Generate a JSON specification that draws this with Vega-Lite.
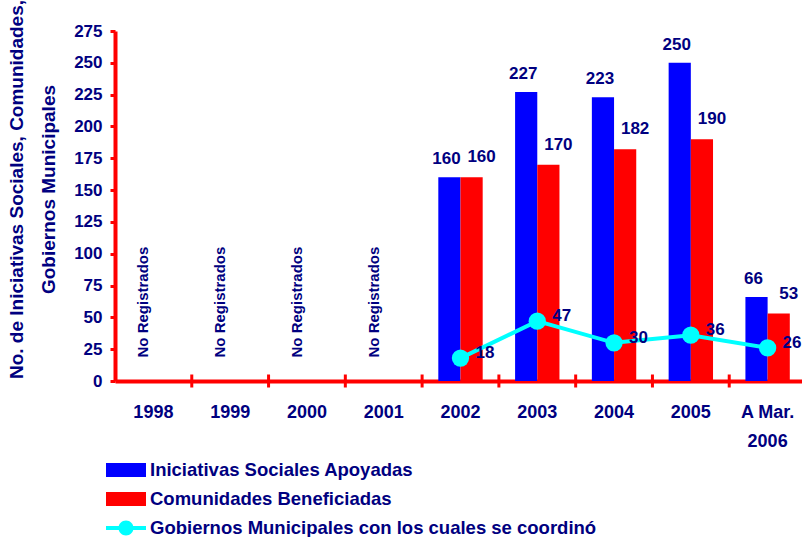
{
  "$schema": "https://vega.github.io/schema/vega-lite/v6.json",
  "width": 691,
  "height": 350,
  "autosize": {"type": "none"},
  "padding": {"left": 115, "top": 31, "right": -4, "bottom": 156},
  "config": {
    "font": "Liberation Sans",
    "view": {"stroke": null},
    "text": {"font": "Liberation Sans"}
  },
  "datasets": {
    "bars": [
      {"cat": "2002", "serie": "Iniciativas Sociales Apoyadas", "v": 160},
      {"cat": "2002", "serie": "Comunidades Beneficiadas", "v": 160},
      {"cat": "2003", "serie": "Iniciativas Sociales Apoyadas", "v": 227},
      {"cat": "2003", "serie": "Comunidades Beneficiadas", "v": 170},
      {"cat": "2004", "serie": "Iniciativas Sociales Apoyadas", "v": 223},
      {"cat": "2004", "serie": "Comunidades Beneficiadas", "v": 182},
      {"cat": "2005", "serie": "Iniciativas Sociales Apoyadas", "v": 250},
      {"cat": "2005", "serie": "Comunidades Beneficiadas", "v": 190},
      {"cat": "A Mar. 2006", "serie": "Iniciativas Sociales Apoyadas", "v": 66},
      {"cat": "A Mar. 2006", "serie": "Comunidades Beneficiadas", "v": 53}
    ],
    "line": [
      {"cat": "2002", "serie": "Gobiernos Municipales con los cuales se coordinó", "v": 18},
      {"cat": "2003", "serie": "Gobiernos Municipales con los cuales se coordinó", "v": 47},
      {"cat": "2004", "serie": "Gobiernos Municipales con los cuales se coordinó", "v": 30},
      {"cat": "2005", "serie": "Gobiernos Municipales con los cuales se coordinó", "v": 36},
      {"cat": "A Mar. 2006", "serie": "Gobiernos Municipales con los cuales se coordinó", "v": 26}
    ],
    "nr": [
      {"cat": "1998", "txt": "No Registrados"},
      {"cat": "1999", "txt": "No Registrados"},
      {"cat": "2000", "txt": "No Registrados"},
      {"cat": "2001", "txt": "No Registrados"}
    ],
    "cats": [
      {"cat": "1999"},
      {"cat": "2000"},
      {"cat": "2001"},
      {"cat": "2002"},
      {"cat": "2003"},
      {"cat": "2004"},
      {"cat": "2005"},
      {"cat": "A Mar. 2006"}
    ]
  },
  "encoding": {
    "x": {
      "field": "cat",
      "type": "nominal",
      "scale": {
        "domain": ["1998", "1999", "2000", "2001", "2002", "2003", "2004", "2005", "A Mar. 2006"],
        "paddingInner": 0,
        "paddingOuter": 0
      },
      "axis": {
        "title": null,
        "labelAngle": 0,
        "labelFontSize": 18,
        "labelFontWeight": "bold",
        "labelColor": "#000080",
        "labelPadding": 22,
        "labelLineHeight": 29,
        "labelExpr": "datum.value == 'A Mar. 2006' ? ['A Mar.', '2006'] : datum.label",
        "domainColor": "#FF0000",
        "domainWidth": 4,
        "ticks": false
      }
    },
    "y": {
      "type": "quantitative",
      "scale": {"domain": [0, 275], "nice": false},
      "axis": {
        "values": [0, 25, 50, 75, 100, 125, 150, 175, 200, 225, 250, 275],
        "labelOverlap": false,
        "grid": false,
        "title": ["No. de Iniciativas Sociales, Comunidades,", "Gobiernos Municipales"],
        "titleFontSize": 19,
        "titleFontWeight": "bold",
        "titleColor": "#000080",
        "titleLineHeight": 32,
        "titleAngle": 270,
        "titleX": -89,
        "titleY": 158,
        "titleAlign": "center",
        "titleBaseline": "bottom",
        "labelFontSize": 17,
        "labelFontWeight": "bold",
        "labelColor": "#000080",
        "labelPadding": 8,
        "domainColor": "#FF0000",
        "domainWidth": 4,
        "tickColor": "#FF0000",
        "tickWidth": 3,
        "tickSize": 5,
        "encode": {"ticks": {"update": {"x": {"value": 5}, "x2": {"value": -5}}}}
      }
    }
  },
  "layer": [
    {
      "data": {"name": "cats"},
      "mark": {"type": "tick", "orient": "vertical", "color": "#FF0000", "size": 13, "thickness": 3, "opacity": 1},
      "encoding": {
        "x": {"field": "cat", "type": "nominal", "bandPosition": 0},
        "y": {"datum": 0}
      }
    },
    {
      "data": {"name": "bars"},
      "mark": {"type": "bar"},
      "encoding": {
        "y": {"field": "v"},
        "xOffset": {"field": "serie", "type": "nominal", "scale": {"domain": ["Iniciativas Sociales Apoyadas", "Comunidades Beneficiadas"], "paddingInner": 0, "paddingOuter": 0.73}},
        "color": {
          "field": "serie",
          "type": "nominal",
          "scale": {
            "domain": ["Iniciativas Sociales Apoyadas", "Comunidades Beneficiadas", "Gobiernos Municipales con los cuales se coordinó"],
            "range": ["#0000FF", "#FF0000", "#00FFFF"]
          },
          "legend": {
            "title": null,
            "orient": "none",
            "legendX": 1,
            "legendY": 429,
            "direction": "vertical",
            "symbolSize": 400,
            "symbolOpacity": 1,
            "symbolStrokeWidth": 0,
            "labelOffset": 14,
            "labelFontSize": 18.5,
            "labelFontWeight": "bold",
            "labelColor": "#000080",
            "labelLimit": 700,
            "rowPadding": 9,
            "padding": 0
          }
        }
      }
    },
    {
      "data": {"name": "bars"},
      "transform": [{"filter": "datum.serie == 'Iniciativas Sociales Apoyadas'"}],
      "mark": {"type": "text", "baseline": "bottom", "dy": -9, "dx": -3, "fontSize": 17, "fontWeight": "bold", "color": "#000080"},
      "encoding": {
        "y": {"field": "v"},
        "xOffset": {"field": "serie", "type": "nominal"},
        "text": {"field": "v", "type": "quantitative"}
      }
    },
    {
      "data": {"name": "bars"},
      "transform": [{"filter": "datum.serie == 'Comunidades Beneficiadas'"}],
      "mark": {"type": "text", "baseline": "bottom", "dy": -11, "dx": 10, "fontSize": 17, "fontWeight": "bold", "color": "#000080"},
      "encoding": {
        "y": {"field": "v"},
        "xOffset": {"field": "serie", "type": "nominal"},
        "text": {"field": "v", "type": "quantitative"}
      }
    },
    {
      "data": {"name": "line"},
      "mark": {"type": "line", "color": "#00FFFF", "strokeWidth": 4, "point": {"filled": true, "size": 300, "color": "#00FFFF", "opacity": 1}},
      "encoding": {
        "y": {"field": "v"}
      }
    },
    {
      "data": {"name": "line"},
      "mark": {"type": "text", "align": "left", "baseline": "middle", "dx": 15, "dy": -5, "fontSize": 17, "fontWeight": "bold", "color": "#000080"},
      "encoding": {
        "y": {"field": "v"},
        "text": {"field": "v", "type": "quantitative"}
      }
    },
    {
      "data": {"name": "nr"},
      "mark": {"type": "text", "angle": 270, "align": "center", "baseline": "bottom", "dy": -2, "fontSize": 15, "fontWeight": "bold", "color": "#000080"},
      "encoding": {
        "y": {"datum": 62},
        "text": {"field": "txt", "type": "nominal"}
      }
    },
    {
      "data": {"name": "bars"},
      "mark": {"type": "point", "filled": true, "opacity": 0},
      "encoding": {
        "y": {"field": "v"},
        "color": {
          "field": "serie",
          "type": "nominal",
          "scale": {
            "domain": ["Iniciativas Sociales Apoyadas", "Comunidades Beneficiadas", "Gobiernos Municipales con los cuales se coordinó"],
            "range": ["#0000FF", "#FF0000", "#00FFFF"]
          },
          "legend": {
            "title": null,
            "orient": "none",
            "legendX": 1,
            "legendY": 429,
            "direction": "vertical",
            "symbolSize": 400,
            "symbolOpacity": 1,
            "symbolStrokeWidth": 0,
            "labelOffset": 14,
            "labelFontSize": 18.5,
            "labelFontWeight": "bold",
            "labelColor": "#000080",
            "labelLimit": 700,
            "rowPadding": 9,
            "padding": 0
          }
        },
        "shape": {
          "field": "serie",
          "type": "nominal",
          "scale": {
            "domain": ["Iniciativas Sociales Apoyadas", "Comunidades Beneficiadas", "Gobiernos Municipales con los cuales se coordinó"],
            "range": [
              "M-2,-0.7H2V0.7H-2Z",
              "M-2,-0.7H2V0.7H-2Z",
              "M-2,-0.2H2V0.2H-2Z M-0.75,0A0.75,0.75 0 1,1 0.75,0A0.75,0.75 0 1,1 -0.75,0Z"
            ]
          },
          "legend": {
            "title": null,
            "orient": "none",
            "legendX": 1,
            "legendY": 429,
            "direction": "vertical",
            "symbolSize": 400,
            "symbolOpacity": 1,
            "symbolStrokeWidth": 0,
            "labelOffset": 14,
            "labelFontSize": 18.5,
            "labelFontWeight": "bold",
            "labelColor": "#000080",
            "labelLimit": 700,
            "rowPadding": 9,
            "padding": 0
          }
        }
      }
    }
  ]
}
